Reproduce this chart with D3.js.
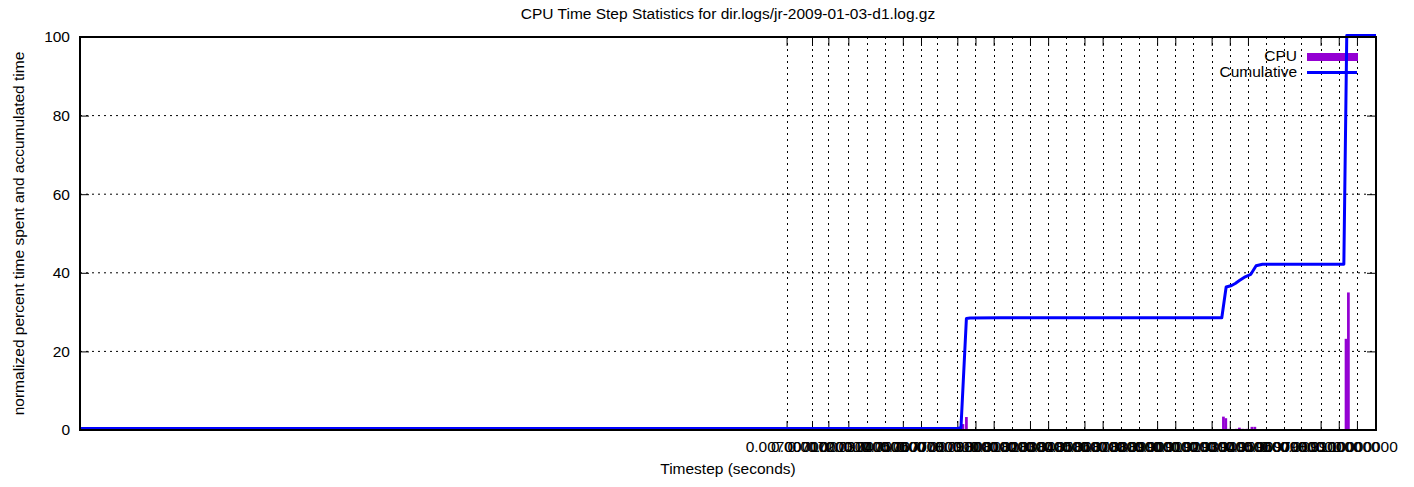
<!DOCTYPE html>
<html>
<head>
<meta charset="utf-8">
<script src="https://cdn.jsdelivr.net/npm/d3@7"></script>
<style>
  html, body { margin: 0; padding: 0; background: #fff; }
  svg { display: block; font-family: "Liberation Sans", Arial, sans-serif; }
</style>
</head>
<body>
<svg id="chart" width="1414" height="487"></svg>
<script>
// ---- data ----
const titleText = "CPU Time Step Statistics for dir.logs/jr-2009-01-03-d1.log.gz";
const xLabelText = "Timestep (seconds)";
const yLabelText = "normalized percent time spent and accumulated time";

const yTickValues = [0, 20, 40, 60, 80, 100];

// x positions of the timestep tics (bin index units)
const xTickValues = [-1.4, 0, 0.9, 2, 3, 4, 5, 6, 6.9, 8, 9, 10, 11, 12, 13, 14, 15, 16,
  17, 18, 19, 20, 21, 22, 23, 24, 25, 26, 26.9, 28, 29, 30];
const xTickLabels = ["0.00700000", "0.00710000", "0.00720000", "0.00730000", "0.00740000",
  "0.00750000", "0.00760000", "0.00770000", "0.00780000", "0.00790000", "0.00800000",
  "0.00810000", "0.00820000", "0.00830000", "0.00840000", "0.00850000", "0.00860000",
  "0.00870000", "0.00880000", "0.00890000", "0.00900000", "0.00910000", "0.00920000",
  "0.00930000", "0.00940000", "0.00950000", "0.00960000", "0.00970000", "0.00980000",
  "0.00990000", "0.01000000", "0.10000000"];
// tics that show only as grid lines (no solid tic mark)
const xGridOnlyValues = [3, 4, 6.9, 11, 14, 17, 18, 21, 25, 26, 26.9];

// CPU histogram (percent of time per step)
const cpuX = [8.31, 8.5, 22.65, 22.78, 22.95, 23.36, 23.53, 23.72, 23.94, 24.22, 24.38, 29.4, 29.53];
const cpuY = [1.5, 3.3, 3.4, 3.0, 0.3, 0.3, 0.6, 0.3, 0.3, 0.8, 0.8, 23.2, 35.0];

// Cumulative percent
const cumX = [-40.3, 7.98, 8.2, 8.5, 8.7, 10.35, 22.56, 22.8, 23.1, 23.3, 23.55, 23.85,
  24.15, 24.45, 24.8, 29.28, 29.44, 31.05];
const cumY = [0, 0, 0.2, 28.0, 28.1, 28.2, 28.2, 36.0, 36.4, 36.9, 37.7, 38.6,
  39.2, 41.4, 41.8, 41.8, 100, 100];

// ---- layout ----
const svg = d3.select("#chart");
const L = 80, R = 1376, T = 37, B = 430;
const x = d3.scaleLinear().domain([-40.3, 31.05]).range([L, R]);
const y = d3.scaleLinear().domain([0, 100]).range([B, T]);
const fs = 15.5;
const purple = "#9400d3", blue = "#0000ff";

// grid
const grid = svg.append("g");
grid.selectAll("line.hg").data(yTickValues.filter(v => v > 0 && v < 100)).enter()
  .append("line").attr("x1", L).attr("x2", R)
  .attr("y1", d => y(d)).attr("y2", d => y(d))
  .attr("stroke", "#000").attr("stroke-width", 1).attr("stroke-dasharray", "2,4");
grid.selectAll("line.vg").data(xTickValues).enter()
  .append("line").attr("x1", d => Math.round(x(d)) + 0.5).attr("x2", d => Math.round(x(d)) + 0.5)
  .attr("y1", T).attr("y2", B)
  .attr("stroke", "#000").attr("stroke-width", 1).attr("stroke-dasharray", "2,4");

// axes (tics inward, mirrored)
const majorX = xTickValues.filter(v => !xGridOnlyValues.includes(v));
const labelMap = new Map(xTickValues.map((v, i) => [v, xTickLabels[i]]));

const axB = d3.axisBottom(x).tickValues(majorX).tickSizeInner(-9).tickSizeOuter(0).tickFormat("");
const axT = d3.axisTop(x).tickValues(majorX).tickSizeInner(-9).tickSizeOuter(0).tickFormat("");
const axL = d3.axisLeft(y).tickValues(yTickValues).tickSizeInner(-9).tickSizeOuter(0).tickFormat("");
const axR = d3.axisRight(y).tickValues(yTickValues).tickSizeInner(-9).tickSizeOuter(0).tickFormat("");
[[axB, `translate(0,${B})`], [axT, `translate(0,${T})`], [axL, `translate(${L},0)`], [axR, `translate(${R},0)`]]
  .forEach(([ax, tr]) => {
    const g = svg.append("g").attr("transform", tr).call(ax);
    g.select(".domain").remove();
    g.selectAll("line").attr("stroke", "#000").attr("stroke-width", 1);
  });

// tick labels
svg.append("g").selectAll("text").data(xTickValues).enter().append("text")
  .attr("x", d => x(d)).attr("y", 452)
  .attr("text-anchor", "middle").attr("font-size", fs).attr("fill", "#000")
  .text(d => labelMap.get(d));
svg.append("g").selectAll("text").data(yTickValues).enter().append("text")
  .attr("x", 70).attr("y", d => y(d)).attr("dy", "0.35em")
  .attr("text-anchor", "end").attr("font-size", fs).attr("fill", "#000")
  .text(d => d);

// CPU bars
const bw = 0.15;
const cpuData = cpuX.map((v, i) => ({ x: v, y: cpuY[i] }));
svg.append("g").selectAll("rect").data(cpuData).enter().append("rect")
  .attr("x", d => x(d.x - bw / 2)).attr("width", d => x(d.x + bw / 2) - x(d.x - bw / 2))
  .attr("y", d => y(d.y)).attr("height", d => y(0) - y(d.y))
  .attr("fill", purple);

// legend (drawn beneath the curve, as in the reference)
const lg = svg.append("g");
lg.append("text").attr("x", 1297).attr("y", 56).attr("dy", "0.35em")
  .attr("text-anchor", "end").attr("font-size", fs).text("CPU");
lg.append("rect").attr("x", 1307).attr("y", 53).attr("width", 51).attr("height", 8).attr("fill", purple);
lg.append("text").attr("x", 1297).attr("y", 72).attr("dy", "0.35em")
  .attr("text-anchor", "end").attr("font-size", fs).text("Cumulative");
lg.append("line").attr("x1", 1307).attr("x2", 1357).attr("y1", 72.5).attr("y2", 72.5)
  .attr("stroke", blue).attr("stroke-width", 3);

// cumulative line (sits ~1.5px above the border line)
const cumData = cumX.map((v, i) => ({ x: v, y: cumY[i] }));
svg.append("path").datum(cumData)
  .attr("transform", "translate(0,-1.5)")
  .attr("d", d3.line().x(d => x(d.x)).y(d => y(d.y)))
  .attr("fill", "none").attr("stroke", blue).attr("stroke-width", 3)
  .attr("stroke-linejoin", "round");

// border
svg.append("rect").attr("x", L).attr("y", T).attr("width", R - L).attr("height", B - T)
  .attr("fill", "none").attr("stroke", "#000").attr("stroke-width", 2);

// titles
svg.append("text").attr("x", (L + R) / 2).attr("y", 19).attr("text-anchor", "middle")
  .attr("font-size", fs).text(titleText);
svg.append("text").attr("x", (L + R) / 2).attr("y", 474).attr("text-anchor", "middle")
  .attr("font-size", fs).text(xLabelText);
svg.append("text").attr("transform", `translate(24,${(T + B) / 2}) rotate(-90)`)
  .attr("text-anchor", "middle").attr("font-size", fs).text(yLabelText);
</script>
</body>
</html>
